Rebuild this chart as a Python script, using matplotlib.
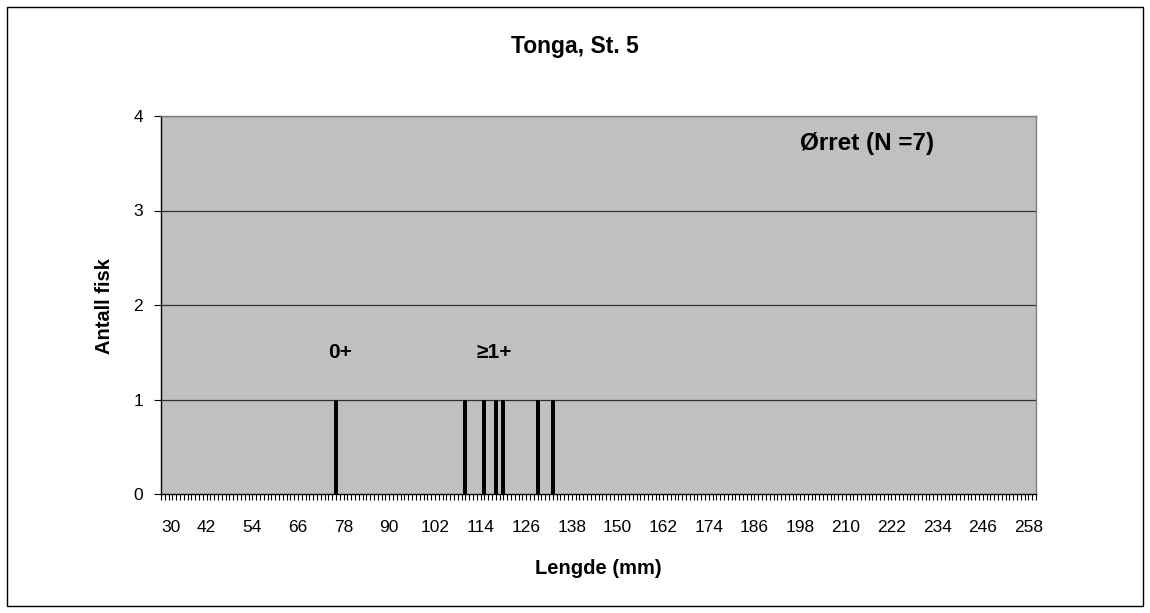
import matplotlib
matplotlib.use("Agg")
import matplotlib.pyplot as plt
from matplotlib.patches import Rectangle
from matplotlib.ticker import MultipleLocator, FixedLocator

plt.rcParams['font.family'] = ['Liberation Sans', 'DejaVu Sans']

# Data
lengths_mm = [76, 110, 115, 118, 120, 129, 133]
counts = [1, 1, 1, 1, 1, 1, 1]
x_tick_labels = list(range(30, 259, 12))
y_ticks = [0, 1, 2, 3, 4]
title = "Tonga, St. 5"
species_label = "Ørret (N =7)"
age_labels = ["0+", "≥1+"]
age_label_x = [77, 117.5]

W, H = 1150, 613
fig = plt.figure(figsize=(W / 100, H / 100), dpi=100)
fig.patch.set_facecolor("white")

L, R, T, B = 161, 1036, 116, 494
ax = fig.add_axes([L / W, 1 - B / H, (R - L) / W, (B - T) / H])
ax.set_facecolor("#C0C0C0")

ax.bar(lengths_mm, counts, width=1.05, color="black", edgecolor="black", linewidth=0, zorder=3)

ax.set_xlim(30, 260)
ax.set_ylim(0, 4)

ax.set_yticks(y_ticks)
ax.set_yticklabels([str(v) for v in y_ticks], fontsize=12.5)
for v in y_ticks[1:]:
    ax.axhline(v, color="#303030", lw=0.9, zorder=1)

ax.xaxis.set_major_locator(FixedLocator(x_tick_labels))
ax.set_xticklabels([str(v) for v in x_tick_labels], fontsize=12.5)
ax.xaxis.set_minor_locator(MultipleLocator(1))
ax.tick_params(axis="x", which="both", direction="out", length=4, width=0.8, color="black", pad=15)
ax.tick_params(axis="y", which="major", direction="out", length=5, width=0.8, pad=8)
labs = ax.get_xticklabels()
labs[0].set_horizontalalignment("left")

for s in ["left", "bottom"]:
    ax.spines[s].set_color("black")
    ax.spines[s].set_linewidth(1.0)
for s in ["top", "right"]:
    ax.spines[s].set_color("#808080")
    ax.spines[s].set_linewidth(1.0)

fig.text(598 / W, 1 - 569 / H, "Lengde (mm)", fontsize=14.5, fontweight="bold", ha="center", va="center")
fig.text(105 / W, 1 - 306 / H, "Antall fisk", fontsize=14.5, fontweight="bold", ha="center", va="center",
         rotation=90)

for lab, xv in zip(age_labels, age_label_x):
    ax.text(xv, 1.5, lab, fontsize=15, fontweight="bold", ha="center", va="center", zorder=4)
ax.text(215.5, 3.71, species_label, fontsize=17.5, fontweight="bold", ha="center", va="center", zorder=4)

fig.text(575 / W, 1 - 47 / H, title, fontsize=16.5, fontweight="bold", ha="center", va="center")

fig.patches.append(Rectangle((7 / W, 1 - 606 / H), 1136 / W, 599 / H, transform=fig.transFigure,
                             fill=False, edgecolor="black", linewidth=1.0))

fig.savefig("out.png", dpi=100)
